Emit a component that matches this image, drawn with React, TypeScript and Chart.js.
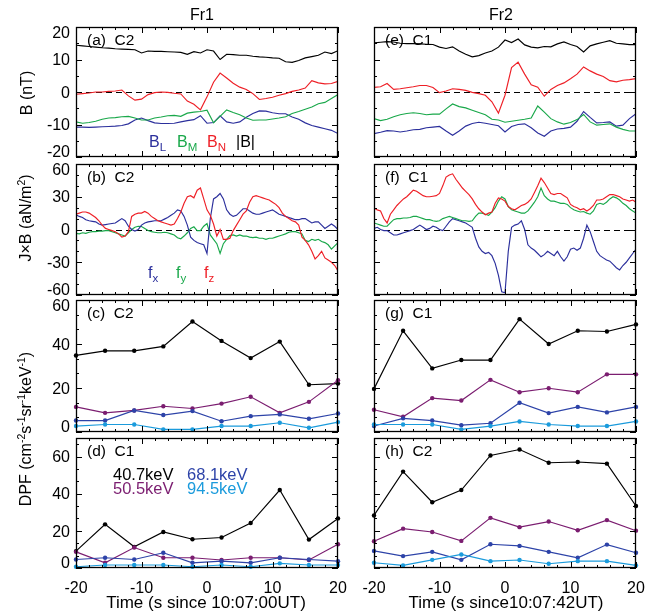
import React, { useEffect, useRef } from "react";
import { Chart, registerables } from "chart.js";

Chart.register(...registerables);

const W = 657;
const H = 614;
const FONT = '"Liberation Sans", Arial, Helvetica, sans-serif';

// ---------- colours ----------
const C_BLACK = "#000000";
const C_BL = "#2b2f9c";
const C_BM = "#19a84a";
const C_BN = "#ee1f26";
const C_505 = "#7b1d70";
const C_681 = "#2d43a8";
const C_945 = "#1b9bdc";

// ---------- time bases ----------
const timeB = Array.from({ length: 41 }, (_, i) => -20 + i); // 1 s
const timeF = Array.from({ length: 81 }, (_, i) => -20 + i * 0.5); // 0.5 s
const timeDPF = [-20, -15.56, -11.11, -6.67, -2.22, 2.22, 6.67, 11.11, 15.56, 20];

// ---------- (a) Fr1 C2 magnetic field ----------
const aBtot = [14.4, 14.2, 14.0, 13.8, 13.6, 13.5, 13.3, 13.2, 13.1, 13.0, 12.0, 12.6, 12.5, 12.5, 12.4, 12.3, 12.2, 11.6, 12.4, 12.0, 13.0, 12.6, 10.0, 11.6, 11.5, 11.3, 11.3, 11.0, 10.8, 10.7, 10.5, 10.4, 9.3, 9.1, 9.7, 10.5, 10.9, 11.3, 12.3, 11.8, 12.7];
const aBL = [-10.8, -10.8, -10.9, -10.8, -10.7, -10.6, -10.5, -10.3, -9.8, -8.6, -8.0, -8.8, -9.5, -9.7, -9.7, -9.6, -9.2, -8.8, -8.5, -7.3, -9.6, -9.4, -7.3, -9.2, -9.6, -9.2, -7.8, -6.6, -5.8, -5.9, -6.4, -6.7, -6.7, -7.7, -8.4, -9.5, -10.3, -10.8, -11.3, -11.8, -12.8];
const aBM = [-9.2, -9.6, -9.4, -9.0, -8.4, -8.0, -7.9, -7.6, -7.5, -8.0, -8.6, -8.6, -8.0, -7.7, -7.3, -7.2, -7.5, -6.5, -6.2, -6.0, -5.6, -9.5, -7.5, -5.5, -6.3, -7.0, -8.0, -8.7, -8.6, -8.6, -8.3, -8.0, -7.6, -6.6, -6.0, -5.3, -4.6, -3.6, -3.2, -2.0, -0.8];
const aBN = [-0.7, -0.5, -0.3, 0, 0, 0.2, 0.3, 0.6, -1.2, -2.5, -2.2, -0.8, -0.2, 0, -0.1, -0.4, -0.6, -2.8, -3.8, -5.5, -1.5, 3.0, 5.8, 4.3, 2.7, 1.5, 0.8, -0.5, -2.3, -2.0, -1.6, -1.0, -0.5, 0.2, 0.6, 1.2, 3.5, 2.8, 2.5, 2.6, 3.3];

// ---------- (e) Fr2 C1 magnetic field ----------
const eBtot = [15.1, 15.3, 15.5, 15.4, 15.0, 14.9, 14.9, 14.8, 14.7, 14.6, 13.8, 13.4, 13.9, 12.6, 11.6, 10.8, 11.2, 12.0, 12.6, 13.8, 16.0, 15.2, 16.3, 14.5, 13.8, 13.6, 14.0, 13.9, 14.8, 15.4, 14.6, 14.0, 12.3, 14.2, 14.8, 15.3, 15.8, 15.0, 14.8, 14.6, 14.6];
const eBL = [-12.8, -12.4, -11.9, -12.0, -12.3, -12.0, -11.6, -11.5, -11.0, -10.8, -10.6, -12.0, -13.3, -12.0, -10.5, -9.7, -9.3, -9.6, -10.0, -10.4, -12.3, -10.6, -10.0, -9.8, -11.0, -12.6, -13.6, -12.0, -11.4, -11.2, -10.8, -9.0, -6.0, -7.8, -9.5, -9.4, -9.2, -10.5, -10.2, -8.2, -6.7];
const eBM = [-8.2, -8.8, -8.4, -7.6, -7.0, -6.6, -6.4, -6.6, -7.0, -6.8, -6.8, -5.2, -3.7, -4.5, -4.9, -5.6, -6.3, -7.0, -8.4, -8.6, -9.3, -9.0, -8.7, -8.4, -8.0, -4.3, -6.2, -8.2, -9.2, -9.9, -9.4, -8.5, -6.9, -9.2, -10.2, -10.0, -9.8, -10.8, -11.5, -12.0, -12.0];
const eBN = [1.4, 1.6, 2.6, 0.8, 1.0, 1.3, 1.6, 2.0, 2.0, 1.4, -0.2, 0.3, 1.0, 0.8, 0.5, -0.1, -0.5, -1.0, -3.0, -6.5, -1.0, 7.5, 9.2, 5.5, 2.2, 1.5, -1.3, 0.8, 2.0, 2.8, 4.1, 5.5, 7.7, 6.5, 5.5, 4.8, 3.5, 3.1, 3.6, 3.8, 4.1];

// ---------- (b) Fr1 C2 J x B ----------
const bFx = [13.5, 12, 11, 9, 8, 7.5, 7, 5, 4, 4.5, 5, 5.5, 6, 8, 10, 8, 3, 0, -1.5, 0, 4, 6, 7, 7.5, 8, 8, 8, 9.5, 11, 13, 15, 18, 17, 12, 4, -7, -10, -12, -13, -14, -22, 10, 28, 30, 33, 28, 18, 14, 12, 13, 16, 19, 19, 17, 15, 14, 14, 15, 16, 17, 18, 16, 14, 13, 12, 11, 10, 9, 9, 10, 10, 8, 6, 7, 7, 4, 1, 3, 5, 3, 0];
const bFy = [-3.5, -4, -3, -3.5, -2.5, -2, -2, -1.5, -1.5, -1, -1, -2, -3, -4, -5, -6, -3, 0, 2, 3, 2.8, 1, -1, -2, -2.5, -3, -3, -2.5, -3, -4, -5, -7.5, -8.5, -6, -3, 1, 2.5, -1, -1, 3, 5.5, -5, -9, -13, -22, -13, -9, -5.5, -5, -6, -5, -6, -6, -7, -7.5, -7, -8, -8, -9, -8, -8, -7, -6, -5, -4, -2.5, -2, -2, -3, -4, -10, -11, -9, -10, -9, -11, -12, -14, -18, -15, -12];
const bFz = [14, 15, 16, 16, 15, 13, 11, 8, 4, 1, 0, -1, -2, -4, -7, -6, -2, 12, 14, 15, 15, 16.5, 15, 12, 10, 8, 7, 6, 5, 4, 5, 10, 16, 24, 30, 31, 29, 36, 38, 28, 18, 13, 5, -6, 0, -9, -9, -8, -1, 4, 9, 14, 17, 25, 30, 31, 30, 29, 28, 27, 25, 23, 20, 15, 12, 10, 8, 7, 4, -7, -10, -14, -20, -27, -24, -20, -26, -28, -30, -33, -38];

// ---------- (f) Fr2 C1 J x B ----------
const fFx = [1, 2, 0, -1, -1, -3, -5, -5, -4, -3, -2, -1, 0, 2, 4, 2, 0, 1, 3, 2, 0, -1, 3, 7, 10, 9, 8, 7, 6, 4, 2, -8, -16, -20, -22, -21, -24, -31, -42, -57, -58, -20, 2, 4, 5, 8, 0, -14, -17, -19, -22, -25, -23, -20, -22, -24, -20, -25, -29, -25, -18, -17, -19, -17, -8, 4, -2, -11, -20, -24, -26, -28, -29, -32, -35, -37, -33, -30, -26, -22, -18];
const fFy = [6, 5, 4, 3, 3, 6, 9, 10, 10, 10.5, 10.5, 11, 12, 12, 11, 10, 9, 9, 8, 7.5, 8, 10, 11, 12, 11, 10, 9, 8, 8, 7.5, 8, 12, 15, 15, 14, 13, 16, 20, 26, 30, 28, 21, 18, 17, 16, 15, 15, 17, 21, 25, 30, 38, 31, 28, 26, 26, 25, 24, 24, 23, 20, 18, 17, 16, 16.5, 15, 14, 17, 23, 24, 23, 25, 28, 30, 29, 27, 24, 22, 19, 17, 15];
const fFz = [19.5, 18, 17, 10, 6, 14, 18, 22, 25, 28, 30, 33, 36, 35, 33, 31, 30, 30, 30.5, 31, 33, 40, 48, 50, 51, 46, 42, 38, 35, 32, 28, 23, 19, 16, 13.5, 15, 16, 24, 29, 28, 26, 21, 19, 18, 20, 22, 23, 25, 28, 34, 40, 47, 43, 38, 33, 32, 33, 33, 31, 29, 23, 21, 20, 18, 19, 17, 19, 22, 27, 27, 28, 30, 32, 32, 31, 30, 28, 27, 26, 27, 25];

// ---------- DPF (c) Fr1 C2 ----------
const c407 = [34.8, 36.9, 36.9, 38.9, 50.2, 41.4, 33.6, 41.1, 21.5, 22.0];
const c505 = [11.4, 8.7, 9.8, 11.7, 10.7, 12.9, 16.0, 8.7, 13.7, 23.5];
const c681 = [5.2, 5.2, 9.8, 7.7, 9.5, 4.9, 7.2, 8.0, 6.0, 8.4];
const c945 = [2.7, 3.4, 3.4, 1.2, 1.2, 2.7, 2.7, 4.2, 1.9, 4.5];
// ---------- DPF (d) Fr1 C1 ----------
const d407 = [9.1, 23.5, 11.4, 19.4, 15.5, 16.4, 24.2, 42.0, 15.3, 26.7];
const d505 = [8.7, 2.8, 11.0, 5.5, 5.5, 4.3, 5.5, 5.5, 4.3, 12.8];
const d681 = [4.6, 5.5, 4.6, 8.2, 2.8, 3.7, 2.8, 5.5, 4.6, 3.7];
const d945 = [0.7, 1.6, 1.6, 1.6, 0.7, 1.6, 0.7, 2.5, 1.6, 1.6];
// ---------- DPF (g) Fr2 C1 ----------
const g407 = [19.6, 46.0, 28.9, 32.7, 32.7, 51.3, 40.0, 46.0, 45.7, 48.9];
const g505 = [10.1, 6.9, 15.4, 14.3, 23.7, 18.1, 19.9, 18.1, 26.2, 26.2];
const g681 = [2.7, 6.2, 5.2, 3.1, 4.0, 13.3, 8.6, 11.4, 8.9, 11.4];
const g945 = [3.4, 3.4, 3.4, 1.2, 2.7, 4.8, 3.4, 2.7, 2.7, 4.8];
// ---------- DPF (h) Fr2 C2 ----------
const h407 = [28.3, 51.9, 35.4, 42.0, 60.6, 63.8, 56.7, 57.1, 56.2, 33.4];
const h505 = [14.4, 21.2, 19.4, 14.6, 27.0, 22.0, 25.0, 20.3, 25.8, 20.1];
const h681 = [9.2, 6.4, 8.7, 4.4, 12.8, 11.9, 8.7, 5.5, 12.6, 8.2];
const h945 = [2.8, 1.4, 4.4, 7.3, 3.7, 4.3, 2.3, 3.7, 3.7, 1.4];

// ---------- axis ticks ----------
const xMajor = [-20, -10, 0, 10, 20];
const yMajorB = [-20, -10, 0, 10, 20];
const yMajorF = [-60, -30, 0, 30, 60];
const yMajorDPF = [0, 20, 40, 60];

// ---------- layout ----------
const COLS = [
  { left: 76, right: 338 },
  { left: 374, right: 636 },
];
const ROWS = [
  { top: 27, bottom: 157 },
  { top: 164, bottom: 295 },
  { top: 300, bottom: 432 },
  { top: 438, bottom: 568 },
];

type Series = { values: number[]; color: string };
type PanelDef = {
  id: string;
  col: number;
  row: number;
  times: number[];
  yMin: number;
  yMax: number;
  yMajor: number[];
  yMinorStep: number;
  zero: boolean;
  markers: boolean;
  series: Series[];
};

const PANELS: PanelDef[] = [
  { id: "a", col: 0, row: 0, times: timeB, yMin: -20, yMax: 20, yMajor: yMajorB, yMinorStep: 5, zero: true, markers: false,
    series: [{ values: aBtot, color: C_BLACK }, { values: aBL, color: C_BL }, { values: aBM, color: C_BM }, { values: aBN, color: C_BN }] },
  { id: "e", col: 1, row: 0, times: timeB, yMin: -20, yMax: 20, yMajor: yMajorB, yMinorStep: 5, zero: true, markers: false,
    series: [{ values: eBtot, color: C_BLACK }, { values: eBL, color: C_BL }, { values: eBM, color: C_BM }, { values: eBN, color: C_BN }] },
  { id: "b", col: 0, row: 1, times: timeF, yMin: -60, yMax: 60, yMajor: yMajorF, yMinorStep: 10, zero: true, markers: false,
    series: [{ values: bFy, color: C_BM }, { values: bFx, color: C_BL }, { values: bFz, color: C_BN }] },
  { id: "f", col: 1, row: 1, times: timeF, yMin: -60, yMax: 60, yMajor: yMajorF, yMinorStep: 10, zero: true, markers: false,
    series: [{ values: fFx, color: C_BL }, { values: fFy, color: C_BM }, { values: fFz, color: C_BN }] },
  { id: "c", col: 0, row: 2, times: timeDPF, yMin: 0, yMax: 60, yMajor: yMajorDPF, yMinorStep: 20 / 3, zero: false, markers: true,
    series: [{ values: c407, color: C_BLACK }, { values: c505, color: C_505 }, { values: c681, color: C_681 }, { values: c945, color: C_945 }] },
  { id: "g", col: 1, row: 2, times: timeDPF, yMin: 0, yMax: 60, yMajor: yMajorDPF, yMinorStep: 20 / 3, zero: false, markers: true,
    series: [{ values: g407, color: C_BLACK }, { values: g505, color: C_505 }, { values: g681, color: C_681 }, { values: g945, color: C_945 }] },
  { id: "d", col: 0, row: 3, times: timeDPF, yMin: 0, yMax: 70, yMajor: yMajorDPF, yMinorStep: 20 / 3, zero: false, markers: true,
    series: [{ values: d407, color: C_BLACK }, { values: d505, color: C_505 }, { values: d681, color: C_681 }, { values: d945, color: C_945 }] },
  { id: "h", col: 1, row: 3, times: timeDPF, yMin: 0, yMax: 70, yMajor: yMajorDPF, yMinorStep: 20 / 3, zero: false, markers: true,
    series: [{ values: h407, color: C_BLACK }, { values: h505, color: C_505 }, { values: h681, color: C_681 }, { values: h945, color: C_945 }] },
];

const MAJOR_LEN = 6;
const MINOR_LEN = 3;

const panelAxesPlugin = {
  id: "panelAxes",
  beforeDatasetsDraw(chart: any, _args: any, opts: any) {
    if (!opts.zero) return;
    const { ctx, chartArea: a } = chart;
    const y = Math.round(chart.scales.y.getPixelForValue(0)) + 0.5;
    ctx.save();
    ctx.strokeStyle = "#000";
    ctx.lineWidth = 1;
    ctx.setLineDash([6, 4]);
    ctx.beginPath();
    ctx.moveTo(a.left, y);
    ctx.lineTo(a.right, y);
    ctx.stroke();
    ctx.restore();
  },
  afterDraw(chart: any, _args: any, opts: any) {
    const { ctx, chartArea: a } = chart;
    const xs = chart.scales.x;
    const ys = chart.scales.y;
    ctx.save();
    ctx.strokeStyle = "#000";
    ctx.lineWidth = 1.3;
    ctx.setLineDash([]);
    // frame
    ctx.strokeRect(a.left + 0.5, a.top + 0.5, a.right - a.left - 1, a.bottom - a.top - 1);
    ctx.lineWidth = 1;
    ctx.beginPath();
    // x ticks
    for (let v = -20; v <= 20; v += 2) {
      const px = Math.round(xs.getPixelForValue(v)) + 0.5;
      const len = v % 10 === 0 ? MAJOR_LEN : MINOR_LEN;
      ctx.moveTo(px, a.bottom);
      ctx.lineTo(px, a.bottom - len);
      ctx.moveTo(px, a.top);
      ctx.lineTo(px, a.top + len);
    }
    // y ticks
    const step = opts.yMinorStep;
    const k0 = Math.ceil(opts.yMin / step - 1e-6);
    const k1 = Math.floor(opts.yMax / step + 1e-6);
    for (let k = k0; k <= k1; k++) {
      const v = k * step;
      const isMajor = opts.yMajor.some((m: number) => Math.abs(m - v) < 1e-6);
      const len = isMajor ? MAJOR_LEN : MINOR_LEN;
      const py = Math.round(ys.getPixelForValue(v)) + 0.5;
      ctx.moveTo(a.left, py);
      ctx.lineTo(a.left + len, py);
      ctx.moveTo(a.right, py);
      ctx.lineTo(a.right - len, py);
    }
    ctx.stroke();
    ctx.fillStyle = "#000";
    ctx.font = `16px ${FONT}`;
    if (opts.showY) {
      ctx.textAlign = "right";
      ctx.textBaseline = "alphabetic";
      for (const v of opts.yMajor as number[]) {
        let cy = ys.getPixelForValue(v);
        cy = Math.min(Math.max(cy, a.top + 5.5), a.bottom - 5.5);
        ctx.fillText(String(v), a.left - 6, cy + 5.7);
      }
    }
    if (opts.showX) {
      ctx.textAlign = "center";
      ctx.textBaseline = "alphabetic";
      for (const v of xMajor) {
        ctx.fillText(String(v), xs.getPixelForValue(v), a.bottom + 25);
      }
    }
    ctx.restore();
  },
};

function PanelChart({ def }: { def: PanelDef }) {
  const ref = useRef<HTMLCanvasElement | null>(null);
  useEffect(() => {
    const canvas = ref.current;
    if (!canvas) return;
    const col = COLS[def.col];
    const row = ROWS[def.row];
    const datasets = def.series
      .slice()
      .reverse()
      .map((s) => {
        const ds: any = {
          data: def.times.map((t, i) => ({ x: t, y: s.values[i] })),
          borderColor: s.color,
          backgroundColor: s.color,
          borderWidth: 1.15,
          pointRadius: def.markers ? 2.2 : 0,
          pointBorderWidth: 0,
          pointHoverRadius: 0,
          tension: 0,
          fill: false,
        };
        if (def.markers) ds.clip = false;
        return ds;
      });
    const chart = new Chart(canvas, {
      type: "line",
      data: { datasets },
      options: {
        animation: false,
        responsive: false,
        maintainAspectRatio: false,
        events: [],
        layout: {
          padding: { left: col.left, top: row.top, right: W - col.right, bottom: H - row.bottom },
        },
        scales: {
          x: { type: "linear", min: -20, max: 20, display: false },
          y: { type: "linear", min: def.yMin, max: def.yMax, display: false },
        },
        plugins: {
          legend: { display: false },
          tooltip: { enabled: false },
          panelAxes: {
            zero: def.zero,
            yMin: def.yMin,
            yMax: def.yMax,
            yMajor: def.yMajor,
            yMinorStep: def.yMinorStep,
            showY: def.col === 0,
            showX: def.row === 3,
          },
        } as any,
      },
      plugins: [panelAxesPlugin],
    });
    return () => chart.destroy();
  }, [def]);
  return <canvas ref={ref} width={W} height={H} style={{ position: "absolute", left: 0, top: 0 }} />;
}

// ---------- text helpers ----------
function Txt(props: { x: number; y: number; size?: number; color?: string; anchor?: "start" | "middle"; children: React.ReactNode }) {
  const size = props.size ?? 16;
  const top = props.y - 0.8465 * size;
  return (
    <div
      style={{
        position: "absolute",
        left: props.x,
        top,
        fontSize: size,
        lineHeight: `${size}px`,
        color: props.color ?? "#000",
        whiteSpace: "pre",
        transform: props.anchor === "middle" ? "translateX(-50%)" : undefined,
      }}
    >
      {props.children}
    </div>
  );
}

function VTxt(props: { cx: number; cy: number; size?: number; children: React.ReactNode }) {
  const size = props.size ?? 16;
  return (
    <div
      style={{
        position: "absolute",
        left: props.cx,
        top: props.cy,
        fontSize: size,
        lineHeight: `${size}px`,
        whiteSpace: "pre",
        transform: "translate(-50%, -50%) rotate(-90deg)",
      }}
    >
      {props.children}
    </div>
  );
}

const Sub = ({ children }: { children: React.ReactNode }) => (
  <span style={{ fontSize: "0.72em", position: "relative", top: "0.35em" }}>{children}</span>
);
const Sup = ({ children }: { children: React.ReactNode }) => (
  <span style={{ fontSize: "0.65em", position: "relative", top: "-0.55em" }}>{children}</span>
);

const PANEL_TAGS: { col: number; row: number; text: string }[] = [
  { col: 0, row: 0, text: "(a)  C2" },
  { col: 0, row: 1, text: "(b)  C2" },
  { col: 0, row: 2, text: "(c)  C2" },
  { col: 0, row: 3, text: "(d)  C1" },
  { col: 1, row: 0, text: "(e)  C1" },
  { col: 1, row: 1, text: "(f)  C1" },
  { col: 1, row: 2, text: "(g)  C1" },
  { col: 1, row: 3, text: "(h)  C2" },
];

export default function App() {
  return (
    <div
      style={{
        position: "absolute",
        left: 0,
        top: 0,
        width: W,
        height: H,
        overflow: "hidden",
        background: "#fff",
        fontFamily: FONT,
        color: "#000",
      }}
    >
      {PANELS.map((p) => (
        <PanelChart key={p.id} def={p} />
      ))}

      {/* column titles */}
      <Txt x={202} y={21} anchor="middle">Fr1</Txt>
      <Txt x={501} y={21} anchor="middle">Fr2</Txt>

      {/* panel tags */}
      {PANEL_TAGS.map((t) => (
        <Txt key={t.text} x={COLS[t.col].left + 11} y={ROWS[t.row].top + 18} size={15.5}>
          {t.text}
        </Txt>
      ))}

      {/* legend (a) */}
      <Txt x={149} y={148} color={C_BL}>B<Sub>L</Sub></Txt>
      <Txt x={177} y={148} color={C_BM}>B<Sub>M</Sub></Txt>
      <Txt x={207} y={148} color={C_BN}>B<Sub>N</Sub></Txt>
      <Txt x={236} y={148} color={C_BLACK}>|B|</Txt>

      {/* legend (b) */}
      <Txt x={148} y={279} color={C_BL}>f<Sub>x</Sub></Txt>
      <Txt x={176} y={279} color={C_BM}>f<Sub>y</Sub></Txt>
      <Txt x={204} y={279} color={C_BN}>f<Sub>z</Sub></Txt>

      {/* legend (d) */}
      <Txt x={113} y={480} size={16.5} color={C_BLACK}>40.7keV</Txt>
      <Txt x={187} y={480} size={16.5} color={C_681}>68.1keV</Txt>
      <Txt x={113} y={494} size={16.5} color={C_505}>50.5keV</Txt>
      <Txt x={187} y={494} size={16.5} color={C_945}>94.5keV</Txt>

      {/* y titles */}
      <VTxt cx={27} cy={93}>B (nT)</VTxt>
      <VTxt cx={27} cy={218}>J×B (aN/m<Sup>2</Sup>)</VTxt>
      <VTxt cx={27} cy={429}>
        DPF (cm<Sup>-2</Sup>s<Sup>-1</Sup>sr<Sup>-1</Sup>keV<Sup>-1</Sup>)
      </VTxt>

      {/* x titles */}
      <Txt x={206} y={608} size={17} anchor="middle">Time (s since 10:07:00UT)</Txt>
      <Txt x={506} y={608} size={17} anchor="middle">Time (s since10:07:42UT)</Txt>
    </div>
  );
}
